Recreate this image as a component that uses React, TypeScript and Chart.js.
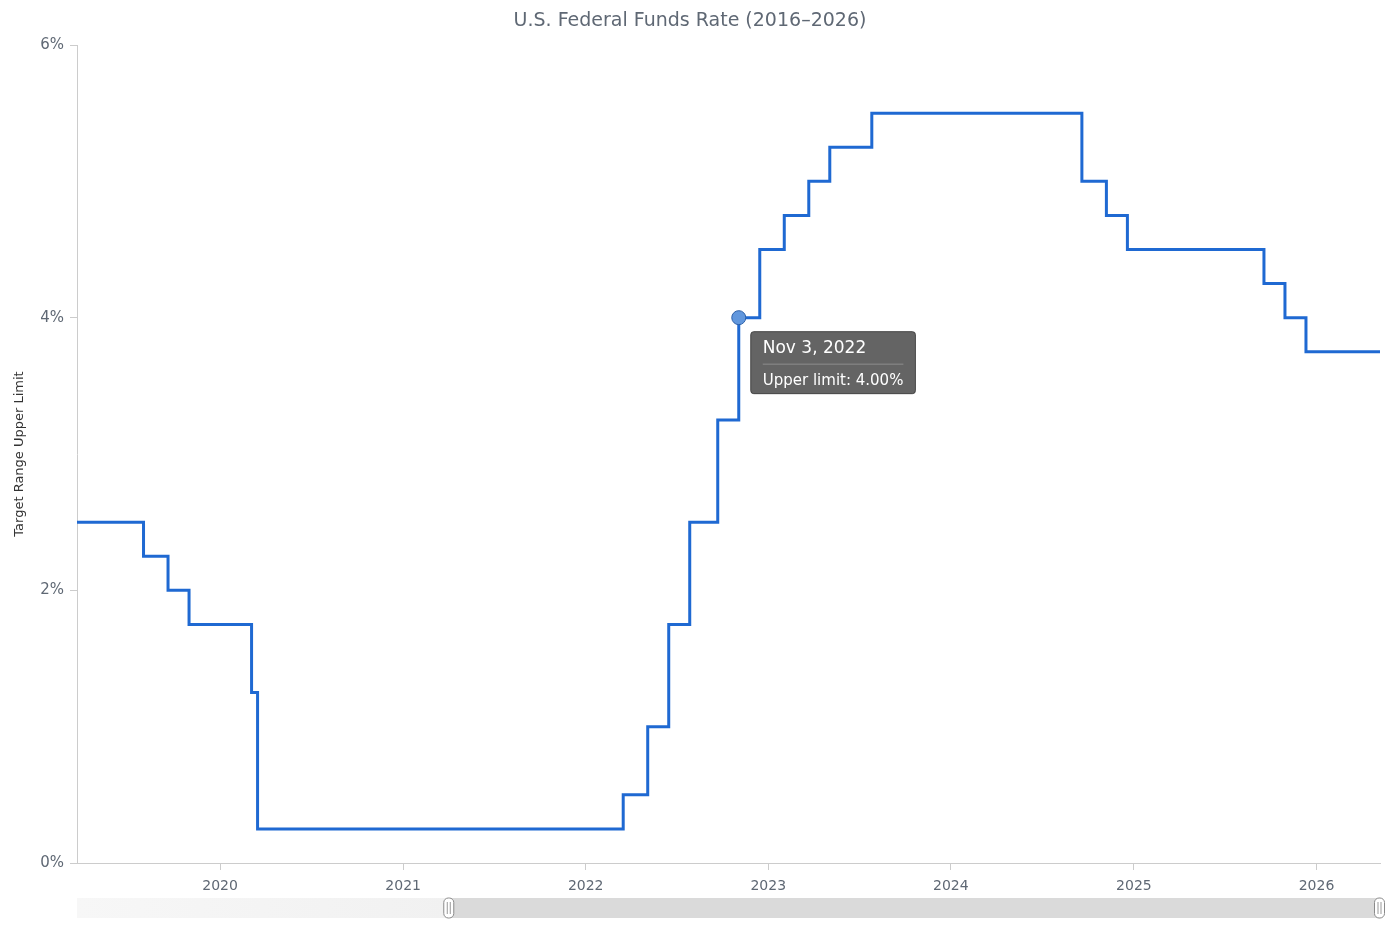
import React, { useEffect, useRef } from "react";
import { Chart, registerables } from "chart.js";

Chart.register(...registerables);

// ---- data ----
const changeDates = [
  "2018-12-20", "2019-08-01", "2019-09-19", "2019-10-31", "2020-03-04", "2020-03-16",
  "2022-03-17", "2022-05-05", "2022-06-16", "2022-07-28", "2022-09-22", "2022-11-03",
  "2022-12-15", "2023-02-02", "2023-03-23", "2023-05-04", "2023-07-27", "2024-09-19",
  "2024-11-07", "2024-12-19", "2025-09-18", "2025-10-30", "2025-12-11", "2026-05-08",
];
const upperLimits = [
  2.5, 2.25, 2.0, 1.75, 1.25, 0.25,
  0.5, 1.0, 1.75, 2.5, 3.25, 4.0,
  4.5, 4.75, 5.0, 5.25, 5.5, 5.0,
  4.75, 4.5, 4.25, 4.0, 3.75, 3.75,
];
const yearTicks = [2020, 2021, 2022, 2023, 2024, 2025, 2026];
const yTicks = [0, 2, 4, 6];
const viewStart = "2019-03-21";
const viewEnd = "2026-05-08";
const scrollerStart = "2016-05-15";
const tooltipDate = "2022-11-03";
const tooltipTitle = "Nov 3, 2022";
const tooltipLabel = "Upper limit";

const FONT = "'DejaVu Sans', Verdana, sans-serif";
const toMs = (s: string) => {
  const [y, m, d] = s.split("-").map(Number);
  return Date.UTC(y, m - 1, d);
};

function roundRect(ctx: CanvasRenderingContext2D, x: number, y: number, w: number, h: number, r: number) {
  ctx.beginPath();
  ctx.moveTo(x + r, y);
  ctx.lineTo(x + w - r, y);
  ctx.arcTo(x + w, y, x + w, y + r, r);
  ctx.lineTo(x + w, y + h - r);
  ctx.arcTo(x + w, y + h, x + w - r, y + h, r);
  ctx.lineTo(x + r, y + h);
  ctx.arcTo(x, y + h, x, y + h - r, r);
  ctx.lineTo(x, y + r);
  ctx.arcTo(x, y, x + r, y, r);
  ctx.closePath();
}

const overlayPlugin = {
  id: "overlay",
  afterDatasetsDraw(chart: any) {
    const ctx: CanvasRenderingContext2D = chart.ctx;
    const xs = chart.scales.x;
    const ys = chart.scales.y;
    const idx = changeDates.indexOf(tooltipDate);
    const px = xs.getPixelForValue(toMs(tooltipDate));
    const py = ys.getPixelForValue(upperLimits[idx]);
    const body = `${tooltipLabel}: ${upperLimits[idx].toFixed(2)}%`;
    ctx.save();
    ctx.font = `17px ${FONT}`;
    const tw = ctx.measureText(tooltipTitle).width;
    ctx.font = `15px ${FONT}`;
    const bw = ctx.measureText(body).width;
    const bx = px + 12;
    const by = py + 14;
    const w = Math.max(tw, bw) + 24;
    const h = 62;
    roundRect(ctx, bx, by, w, h, 3);
    ctx.fillStyle = "rgba(88,88,88,0.93)";
    ctx.fill();
    ctx.strokeStyle = "rgba(60,60,60,0.9)";
    ctx.lineWidth = 1;
    ctx.stroke();
    ctx.fillStyle = "#ffffff";
    ctx.textBaseline = "middle";
    ctx.textAlign = "left";
    ctx.font = `17px ${FONT}`;
    ctx.fillText(tooltipTitle, bx + 12, by + 17);
    ctx.strokeStyle = "#8c8c8c";
    ctx.beginPath();
    ctx.moveTo(bx + 12, by + 32.5);
    ctx.lineTo(bx + w - 12, by + 32.5);
    ctx.stroke();
    ctx.font = `15px ${FONT}`;
    ctx.fillText(body, bx + 12, by + 49);
    ctx.restore();
  },
  afterDraw(chart: any) {
    const ctx: CanvasRenderingContext2D = chart.ctx;
    const area = chart.chartArea;
    const s0 = toMs(scrollerStart);
    const s1 = toMs(viewEnd);
    const v0 = toMs(viewStart);
    const v1 = toMs(viewEnd);
    const L = area.left;
    const R = area.right;
    const f = (v: number) => L + ((v - s0) / (s1 - s0)) * (R - L);
    const top = 898;
    const hgt = 20;
    ctx.save();
    const grad = ctx.createLinearGradient(L, 0, f(v0), 0);
    grad.addColorStop(0, "#f7f7f7");
    grad.addColorStop(1, "#f1f1f1");
    ctx.fillStyle = grad;
    ctx.fillRect(L, top, R - L, hgt);
    ctx.fillStyle = "#dadada";
    ctx.fillRect(f(v0), top, f(v1) - f(v0), hgt);
    const handle = (cx: number) => {
      roundRect(ctx, cx - 5, top, 10, hgt, 4.5);
      ctx.fillStyle = "#ffffff";
      ctx.fill();
      ctx.strokeStyle = "#8a8a8a";
      ctx.lineWidth = 1;
      ctx.stroke();
      ctx.beginPath();
      ctx.moveTo(cx - 1.5, top + 4);
      ctx.lineTo(cx - 1.5, top + hgt - 4);
      ctx.moveTo(cx + 1.5, top + 4);
      ctx.lineTo(cx + 1.5, top + hgt - 4);
      ctx.strokeStyle = "#999999";
      ctx.stroke();
    };
    handle(f(v0));
    handle(f(v1) - 0.5);
    ctx.restore();
  },
};

export default function App() {
  const ref = useRef<HTMLCanvasElement>(null);
  useEffect(() => {
    if (!ref.current) return;
    const points = changeDates.map((d, i) => ({ x: toMs(d), y: upperLimits[i] }));
    const hiIdx = changeDates.indexOf(tooltipDate);
    const chart = new Chart(ref.current, {
      type: "line",
      data: {
        datasets: [
          {
            data: points,
            stepped: true,
            borderColor: "#1f69d2",
            borderWidth: 3,
            fill: false,
            pointRadius: (c: any) => (c.dataIndex === hiIdx ? 7 : 0),
            pointBackgroundColor: "#6197dd",
            pointBorderColor: "#2b5fa8",
            pointBorderWidth: 1,
          },
        ],
      },
      options: {
        animation: false,
        responsive: true,
        maintainAspectRatio: false,
        events: [],
        layout: { padding: { left: 0, right: 20, top: 0, bottom: 0 } },
        plugins: {
          legend: { display: false },
          tooltip: { enabled: false },
          title: {
            display: true,
            text: "U.S. Federal Funds Rate (2016\u20132026)",
            color: "#5f6874",
            font: { family: FONT, size: 19, weight: "normal" },
            padding: { top: 10, bottom: 12.2 },
          },
        },
        scales: {
          x: {
            type: "linear",
            min: toMs(viewStart),
            max: toMs(viewEnd),
            afterBuildTicks: (scale: any) => {
              scale.ticks = yearTicks.map((y) => ({ value: Date.UTC(y, 0, 1) }));
            },
            afterFit: (scale: any) => {
              scale.height = 67;
            },
            ticks: {
              autoSkip: false,
              maxRotation: 0,
              color: "#5f6874",
              font: { family: FONT, size: 14 },
              padding: 8,
              callback: (v: any) => String(new Date(v).getUTCFullYear()),
            },
            grid: { drawOnChartArea: false, drawTicks: true, tickLength: 7, color: "#cccccc" },
            border: { display: true, color: "#cccccc", width: 1 },
          },
          y: {
            min: 0,
            max: 6,
            afterBuildTicks: (scale: any) => {
              scale.ticks = yTicks.map((v) => ({ value: v }));
            },
            afterFit: (scale: any) => {
              scale.width = 77;
            },
            ticks: {
              color: "#5f6874",
              font: { family: FONT, size: 15 },
              padding: 6,
              callback: (v: any) => `${v}%`,
            },
            grid: { drawOnChartArea: false, drawTicks: true, tickLength: 7, color: "#cccccc" },
            border: { display: true, color: "#cccccc", width: 1 },
            title: {
              display: true,
              text: "Target Range Upper Limit",
              color: "#333333",
              font: { family: FONT, size: 13 },
              padding: { top: 12, bottom: 0 },
            },
          },
        },
      },
      plugins: [overlayPlugin],
    } as any);
    return () => chart.destroy();
  }, []);
  return (
    <div style={{ position: "fixed", left: 0, top: 0, width: 1400, height: 930, background: "#fff" }}>
      <canvas ref={ref} />
    </div>
  );
}
